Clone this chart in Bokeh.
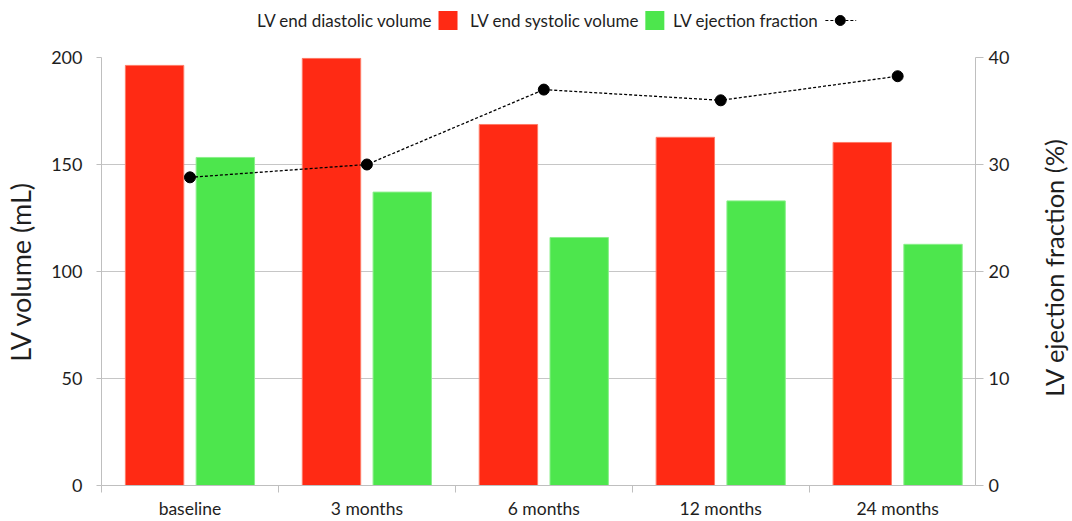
import math
from bokeh.plotting import figure
from bokeh.models import Range1d, LinearAxis, FixedTicker, ColumnDataSource
from bokeh.transform import dodge
from bokeh.layouts import column, row
from bokeh.core.properties import value
from bokeh.embed import file_html
from bokeh.resources import INLINE

# ---------------- data ----------------
categories = ["baseline", "3 months", "6 months", "12 months", "24 months"]
lv_end_diastolic = [196.3, 199.6, 168.7, 162.7, 160.3]
lv_end_systolic = [153.3, 137.1, 115.9, 133.0, 112.7]
lv_ejection_fraction = [28.8, 30.0, 37.0, 36.0, 38.25]
volume_ticks = [0, 50, 100, 150, 200]
ef_ticks = [0, 10, 20, 30, 40]
legend_labels = ["LV end diastolic volume", "LV end systolic volume", "LV ejection fraction"]
left_title = "LV volume (mL)"
right_title = "LV ejection fraction (%)"

RED = "#FF2A14"
GREEN = "#4DE64D"
AXIS = "#BFBFBF"
TXT = "#1E1E1E"
FONT = "Lato"

xc = [i + 0.5 for i in range(len(categories))]
src = ColumnDataSource(dict(xc=xc, edv=lv_end_diastolic, esv=lv_end_systolic,
                            ef=lv_ejection_fraction, cat=categories))

MAIN_W = 1027
TITLE_W = 1072 - MAIN_W

# ---------------- legend strip (frame aligned with main chart) ----------------
lf = figure(width=MAIN_W, height=40, x_range=Range1d(101, 980), y_range=Range1d(40, 0),
            toolbar_location=None, output_backend="svg", min_border=0)
lf.axis.visible = False
lf.grid.visible = False
lf.outline_line_color = None
lf.text(x=[434, 642, 822], y=[20, 20, 20], text=legend_labels, text_align="right",
        text_baseline="middle", text_font=value(FONT), text_font_size="17px", text_color=TXT)
lf.rect(x=[449.5, 657.5], y=[20, 20], width=19, height=19, width_units="screen",
        height_units="screen", fill_color=[RED, GREEN], line_color=None)
lf.line([829, 860], [20, 20], line_color="black", line_dash="3 2", line_width=1.2)
lf.scatter([844], [20], size=10, color="black")

# ---------------- main chart ----------------
p = figure(width=MAIN_W, height=481, x_range=Range1d(0, 4.94), y_range=Range1d(0, 200),
           toolbar_location=None, output_backend="svg",
           min_border_left=101, min_border_right=MAIN_W - 975, min_border_top=17,
           min_border_bottom=35)
p.outline_line_color = None
p.xgrid.visible = False
p.ygrid.ticker = FixedTicker(ticks=volume_ticks[1:])
p.ygrid.grid_line_color = "#C6C6C6"

p.extra_y_ranges = {"ef": Range1d(0, 40)}

p.vbar(x=dodge("xc", -0.2), top="edv", width=0.33, source=src,
       fill_color=RED, line_color="#FF7A66", line_width=1)
p.vbar(x=dodge("xc", 0.2), top="esv", width=0.33, source=src,
       fill_color=GREEN, line_color="#8AF08A", line_width=1)
p.line(x="xc", y="ef", source=src, y_range_name="ef", line_color="black",
       line_dash="3 2", line_width=1.3)
p.scatter(x="xc", y="ef", source=src, y_range_name="ef", size=11, color="black")

# x axis
xa = p.xaxis[0]
xa.ticker = FixedTicker(ticks=xc, minor_ticks=list(range(len(categories) + 1)))
xa.major_label_overrides = {float(x): c for x, c in zip(xc, categories)}
xa.major_tick_line_color = None
xa.major_tick_in = 0
xa.major_tick_out = 0
xa.minor_tick_in = 0
xa.minor_tick_out = 7
xa.minor_tick_line_color = AXIS
xa.axis_line_color = AXIS
xa.major_label_standoff = 5
xa.major_label_text_font = FONT
xa.major_label_text_font_size = "17.5px"
xa.major_label_text_color = TXT

# left axis
ya = p.yaxis[0]
ya.ticker = FixedTicker(ticks=volume_ticks)
ya.axis_label = left_title
ya.axis_line_color = AXIS
ya.major_tick_line_color = AXIS
ya.major_tick_in = 0
ya.major_tick_out = 5
ya.minor_tick_line_color = None
ya.major_label_standoff = 14
ya.major_label_text_font = FONT
ya.major_label_text_font_size = "18px"
ya.major_label_text_color = TXT
ya.axis_label_text_font = FONT
ya.axis_label_text_font_size = "27px"
ya.axis_label_text_font_style = "normal"
ya.axis_label_text_color = TXT
ya.axis_label_standoff = 11

# right axis
ra = LinearAxis(y_range_name="ef", ticker=FixedTicker(ticks=ef_ticks))
ra.axis_line_color = AXIS
ra.major_tick_line_color = AXIS
ra.major_tick_in = 0
ra.major_tick_out = 8
ra.minor_tick_line_color = None
ra.major_label_standoff = 5
ra.major_label_text_font = FONT
ra.major_label_text_font_size = "18px"
ra.major_label_text_color = TXT
p.add_layout(ra, "right")

# ---------------- right axis title strip (reads bottom-to-top like the reference) ----------------
tf = figure(width=TITLE_W, height=521, x_range=Range1d(0, TITLE_W), y_range=Range1d(521, 0),
            toolbar_location=None, output_backend="svg", min_border=0)
tf.axis.visible = False
tf.grid.visible = False
tf.outline_line_color = None
tf.text(x=[TITLE_W / 2 + 4], y=[267], text=[right_title], angle=math.pi / 2,
        text_align="center", text_baseline="middle", text_font=value(FONT),
        text_font_size="25.5px", text_color=TXT)

layout = row(column(lf, p, spacing=0), tf, spacing=0)
open("out.html", "w").write(file_html(layout, INLINE))
